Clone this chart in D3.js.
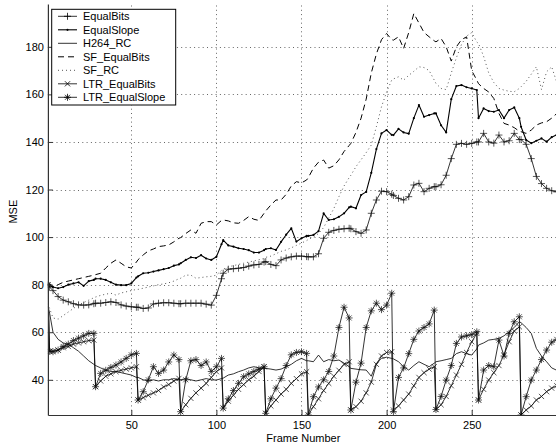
<!DOCTYPE html>
<html><head><meta charset="utf-8">
<script src="https://cdn.jsdelivr.net/npm/d3@7"></script>
<style>
body{margin:0;background:#fff}
svg{display:block;font-family:Arial,"Liberation Sans",Helvetica,sans-serif}
</style>
</head><body>
<svg id="chart" width="556" height="446"></svg>
<script>
// Frame numbers at which the MSE curves are sampled
const frames = [1,2,4,7,10,13,16,19,22,25,28,
  29,32,35,38,41,44,47,50,53,
  54,57,60,63,66,69,72,75,78,
  79,82,85,88,91,94,97,100,103,
  104,107,110,113,116,119,122,125,128,
  129,132,135,138,141,144,147,150,153,
  154,157,160,163,166,169,172,175,178,
  179,182,185,188,191,194,197,200,203,
  204,207,210,213,216,219,222,225,228,
  229,232,235,238,241,244,247,250,253,
  254,257,260,263,266,269,272,275,278,
  279,282,285,288,291,294,297,300];

const equalBits = [80,79,77.5,75,73.5,72.8,72,71.5,71.4,71.5,72,
  72.2,72.2,72.5,72.8,72.5,71.5,71,70.7,70.5,
  70.5,70,70.2,71.9,72.2,72.4,72.4,72.2,72,
  72,72.2,72.2,72.2,72.2,71.8,71.4,75.5,82.5,
  84.8,86.5,86.7,86.9,87.2,87.8,88.3,88.5,89.5,
  89.7,88.5,88,90.4,91.2,91.7,92,92,91.8,
  91.7,91.7,93,99.5,102,102.8,103.3,103.5,103.7,
  103.5,102.3,101.6,103,110,115.6,119.3,119.1,118,
  117.5,116.3,115.6,117,121.9,122.6,119.1,120.5,121.2,
  121.2,122,126,133,139,139.4,139,139.4,140,
  140,143.6,140,139.5,142.9,140,140.5,143.6,141,
  141,139,133,125.5,122.5,120.5,119.5,119];

const equalSlope = [80.5,80,79,78.5,79,80,80.5,81,79.5,81.5,82,
  82.5,82.5,82,81,80,79.8,79.8,80.5,83,
  83.5,84.8,85,85.5,86,86.5,87,88,88.5,
  89,90.4,91.5,91.2,92.4,91,90.4,91.7,97,
  98.7,96.5,96,95.3,95,94.5,93.5,93.5,94.5,
  95,95.3,94.6,98,101,103.7,98.1,99.5,100.5,
  100.5,100.9,102.5,110,107.2,107.5,108.5,110,112.5,
  112.8,112.1,117.7,119,127,137,143.6,145,143,
  142.9,145.5,144,143.5,150,155.5,150.6,151.3,152,
  152,147,144,158,163.5,163.9,163,162.5,161.8,
  150,154.1,153,152.7,153.4,150,153.4,154.5,150,
  146.4,140.8,139.5,140.5,141.5,140.1,142,143];

const h264RC = [71,68,60,57,55.5,55,53.5,52,50,48,46.5,
  46,45,44,43.5,43.5,43,42.5,42,41,
  41,40,39.5,40,39.5,40,40,40.5,40,
  40,40.5,40,39.5,40,40.5,40,39.9,40.5,
  40.7,42,42.5,43.4,44.1,45,45.5,45,44.8,
  44.8,44.5,44.1,44.5,45.5,46.5,48,49,48,
  48,47.6,50.4,47.6,48.5,48,48.3,47,45.5,
  44.8,44.5,44.2,44.1,41.5,47,49,49.5,49,
  48.8,47.6,45.5,44.1,46,47.6,46.5,45.5,47,
  47.6,48,48.5,49,51,51.8,51,50.4,53,
  54.6,55.5,56.7,57,57.4,58.5,60.2,62,64.4,
  64,62,59.5,53.2,50,47.6,45,44];

const sfEqualBits = [80,79.5,79,80,81,81.5,82,82.5,83,83.5,84,
  84.2,84.8,87,89,90.4,89,87.5,87,89.5,
  90.5,92.5,94.2,95,96,96.3,96.7,98,99.5,
  99.8,101.5,103,101.6,105.8,106.5,106.5,105.1,107,
  107.2,106.8,106,105.8,107,108.6,107.5,107,110,
  111,113.5,115.6,115.6,118,121.5,123.3,122.8,124,
  125,129,131.5,132.4,129,130,132.5,136,138.5,
  139.4,144,150,158,169,177,183,185.6,183,
  182.8,184.2,179.3,186,194,190,186,184.2,182.5,
  182.1,183.5,180,174,180,183,184.2,170,166,
  164.5,162.5,161,158.3,152,147.8,147.1,146,144.5,
  144.3,143.6,145,147.1,148,148.5,150,152];

const sfRC = [72,70,66,65.5,67,68.5,70,71.5,72.5,73.5,74.5,
  74.8,75.5,76,76.4,75.6,76.5,77,77.5,78,
  78,78.5,79,79.5,80,80.3,80.8,81.5,82.5,
  82.7,84,84,82.7,83,83.3,83.5,84,86,
  86.5,87.5,88,88.5,89,89.5,90,90.5,91,
  91.5,92,93,94,94.6,95.5,96.5,97.5,98.5,
  99,100,101.5,104,108,112,117,121.5,125,
  126,129.6,132.5,135.5,138.7,146.4,154.8,161,166,
  166.5,167.4,166,168,169.7,171.6,171.3,170,166,
  164.6,162.5,162,169,175.4,181,184.5,186,182,
  181.4,176,169,165,162.5,161.8,161.3,161.1,162.5,
  163.2,165.5,168.5,171.6,162,169.5,171.6,165];

const ltrEqualBits = [80,52,52,52.5,53.5,54,55,55.5,56,56.5,56.7,
  37.1,39.5,41.5,42.5,43.4,44,44.5,45,45.5,
  31.5,32.5,33.5,34.5,35.5,37,38,39.5,40.6,
  26.6,29.5,32.2,34.5,36.5,38.5,41,43.4,45,
  28.1,31,33.5,36,38,40,41.5,43.5,45.5,
  25.9,29,31.5,34,36,38.5,40.5,42.5,43.4,
  25.2,28.7,32,35.5,38.5,41.5,44,46.5,47.6,
  27.3,28.7,31,34.5,39,46.5,50,51.5,51.8,
  27.3,29,31.5,34,37.5,41,43,44.5,45.5,
  27.5,29.5,33,37.5,42,46.5,51.5,56,59.5,
  31.5,36,39.9,43,46,50.5,56,60.5,62.3,
  25.2,27.3,29,31.5,33,35,36.5,37.5];

const ltrEqualSlope = [80,52,51.8,52.5,54,55,56.5,57.5,58.5,59.5,59.5,
  37.1,42.7,44,45.2,46.2,47.5,49,50.5,51.1,
  31.5,35,40,45.5,42.7,44.1,47.5,50.4,48.5,
  26.6,40,48,48.5,46,47.5,43.5,45.5,49,
  28.1,32,35.5,38.5,41.3,42.5,43.5,44.5,45.5,
  25.9,32,36.5,40.5,46,50.5,51.5,51.8,51.1,
  25.2,32.9,37,40,43.5,50,62,70.5,66,
  27.3,39,47,62,69,72.2,69.5,71.4,76.4,
  26.6,41,45,51,57,60.5,62,63.5,69.3,
  27.5,33,39.9,46,55.3,58,58.5,59,60.2,
  31.5,44.1,46,45.5,56.7,50,59.5,64.4,66.5,
  25.2,32.9,39.9,44.1,48.5,52.5,55.8,57];

const seriesNames = ["EqualBits","EqualSlope","H264_RC","SF_EqualBits","SF_RC","LTR_EqualBits","LTR_EqualSlope"];
const seriesValues = [equalBits, equalSlope, h264RC, sfEqualBits, sfRC, ltrEqualBits, ltrEqualSlope];
const xTicks = [50,100,150,200,250];
const yTicks = [40,60,80,100,120,140,160,180];

// Line and marker style for each series
const styles = {
  "EqualBits":      {dash: null,  stroke:"#000", width:0.8, marker:"plus"},
  "EqualSlope":     {dash: null,  stroke:"#000", width:1.1, marker:"dot"},
  "H264_RC":        {dash: null,  stroke:"#000", width:0.8, marker:null},
  "SF_EqualBits":   {dash: "6,4", stroke:"#000", width:1,   marker:null},
  "SF_RC":          {dash: "1,3", stroke:"#555", width:1,   marker:null},
  "LTR_EqualBits":  {dash: null,  stroke:"#000", width:0.8, marker:"cross"},
  "LTR_EqualSlope": {dash: null,  stroke:"#000", width:0.8, marker:"star"}
};

const markerPaths = {
  plus:  "M-3.5,0H3.5M0,-3.5V3.5",
  cross: "M-2.6,-2.6L2.6,2.6M-2.6,2.6L2.6,-2.6",
  star:  "M-3.5,0H3.5M0,-3.5V3.5M-2.5,-2.5L2.5,2.5M-2.5,2.5L2.5,-2.5"
};

const svg = d3.select("#chart");
const plot = {left:47.9, right:556.8, top:4, bottom:415};

const x = d3.scaleLinear().domain([1,300]).range([plot.left, plot.right]);
const y = d3.scaleLinear().domain([25.2,198]).range([plot.bottom, plot.top]);

svg.append("defs").append("clipPath").attr("id","plotClip")
  .append("rect").attr("x",plot.left).attr("y",plot.top)
  .attr("width",plot.right-plot.left).attr("height",plot.bottom-plot.top);

// Dotted grid
const grid = svg.append("g").attr("stroke","#666").attr("stroke-width",1)
  .attr("stroke-dasharray","1,3.3").attr("fill","none");
grid.selectAll("line.v").data(xTicks).join("line").attr("class","v")
  .attr("x1",d=>Math.round(x(d))+0.5).attr("x2",d=>Math.round(x(d))+0.5)
  .attr("y1",plot.bottom).attr("y2",plot.top);
grid.selectAll("line.h").data(yTicks).join("line").attr("class","h")
  .attr("y1",d=>Math.round(y(d))+0.5).attr("y2",d=>Math.round(y(d))+0.5)
  .attr("x1",plot.left).attr("x2",plot.right);

// Curves
const dataG = svg.append("g").attr("clip-path","url(#plotClip)");
const line = d3.line().x(d=>x(d[0])).y(d=>y(d[1]));

seriesNames.forEach((name,i)=>{
  const st = styles[name];
  const pts = frames.map((f,j)=>[f, seriesValues[i][j]]);
  const g = dataG.append("g");
  g.append("path").datum(pts).attr("d",line).attr("fill","none")
    .attr("stroke",st.stroke).attr("stroke-width",st.width)
    .attr("stroke-dasharray",st.dash).attr("stroke-linejoin","round");
  if (st.marker === "dot") {
    g.selectAll("circle").data(pts).join("circle")
      .attr("cx",d=>x(d[0])).attr("cy",d=>y(d[1])).attr("r",1.1).attr("fill","#000");
  } else if (st.marker) {
    g.selectAll("path.m").data(pts).join("path").attr("class","m")
      .attr("d",markerPaths[st.marker])
      .attr("transform",d=>`translate(${x(d[0])},${y(d[1])})`)
      .attr("fill","none").attr("stroke","#111").attr("stroke-width",0.7);
  }
});

// Axes with inward ticks
const yAxis = d3.axisLeft(y).tickValues(yTicks).tickSize(-5).tickSizeOuter(0).tickPadding(4);
const xAxis = d3.axisBottom(x).tickValues(xTicks).tickSize(-5).tickSizeOuter(0).tickPadding(6.5);

const gy = svg.append("g").attr("transform",`translate(${plot.left},0)`).call(yAxis);
const gx = svg.append("g").attr("transform",`translate(0,${plot.bottom})`).call(xAxis);
[gx,gy].forEach(g=>{
  g.select(".domain").attr("stroke","#333").attr("stroke-width",1.2);
  g.selectAll(".tick line").attr("stroke","#333");
  g.selectAll(".tick text").attr("fill","#000").attr("font-size",11)
    .attr("font-family","Arial, 'Liberation Sans', sans-serif");
});

// Axis titles
svg.append("text").attr("x",(plot.left+plot.right)/2 + 1).attr("y",441.5)
  .attr("text-anchor","middle").attr("font-size",11).text("Frame Number");
svg.append("text").attr("transform","translate(17,211.7) rotate(-90)")
  .attr("text-anchor","middle").attr("font-size",11).text("MSE");

// Legend
const lg = svg.append("g");
lg.append("rect").attr("x",51.7).attr("y",9.3).attr("width",124).attr("height",95.7)
  .attr("fill","#fff").attr("stroke","#000").attr("stroke-width",1);
seriesNames.forEach((name,i)=>{
  const st = styles[name];
  const cy = 16.3 + i*13.5;
  lg.append("line").attr("x1",58).attr("x2",77).attr("y1",cy).attr("y2",cy)
    .attr("stroke",st.stroke).attr("stroke-width",st.width).attr("stroke-dasharray",st.dash);
  if (st.marker === "dot") {
    lg.append("circle").attr("cx",67.5).attr("cy",cy).attr("r",1.1).attr("fill","#000");
  } else if (st.marker) {
    lg.append("path").attr("d",markerPaths[st.marker]).attr("transform",`translate(67.5,${cy})`)
      .attr("fill","none").attr("stroke","#000").attr("stroke-width",0.8);
  }
  lg.append("text").attr("x",83).attr("y",cy).attr("dy","0.35em")
    .attr("font-size",11).text(name);
});
</script>
</body></html>
